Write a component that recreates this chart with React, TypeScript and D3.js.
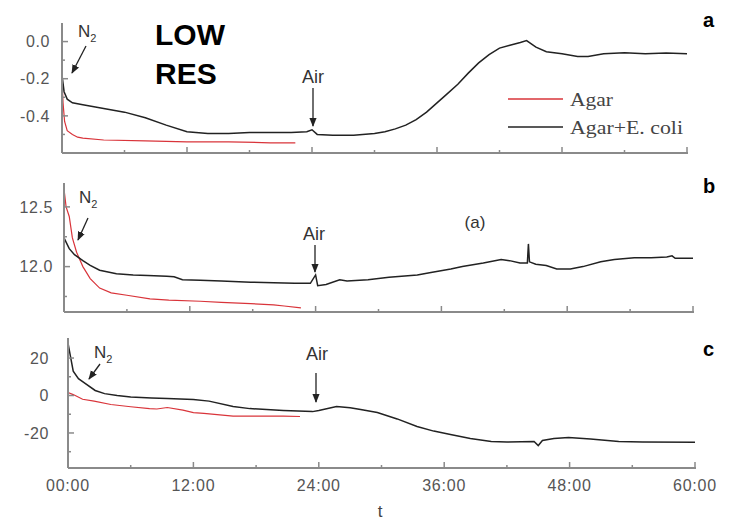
import React from "react";
import * as d3 from "d3";

// ---------- data ----------
const xTickHours = [0, 12, 24, 36, 48, 60];
const xTickLabels = ["00:00", "12:00", "24:00", "36:00", "48:00", "60:00"];
const xMinorHours = [6, 18, 30, 42, 54];

const aMajor = [0.0, -0.2, -0.4];
const aMajorLabels = ["0.0", "-0.2", "-0.4"];
const aMinor = [-0.1, -0.3, -0.5];
const bMajor = [12.5, 12.0];
const bMajorLabels = ["12.5", "12.0"];
const bMinor = [12.25, 11.75];
const cMajor = [20, 0, -20];
const cMajorLabels = ["20", "0", "-20"];
const cMinor = [10, -10, -30];

const aAgar: [number, number][] = [
  [0, -0.2], [0.1, -0.33], [0.25, -0.43], [0.5, -0.48], [1, -0.5], [1.5, -0.515], [2, -0.52],
  [4, -0.53], [8, -0.535], [12, -0.54], [16, -0.54], [20, -0.545], [22.4, -0.545],
];
const aEcoli: [number, number][] = [
  [0, -0.18], [0.2, -0.27], [0.5, -0.31], [1, -0.33], [2, -0.34], [4, -0.36], [6, -0.38],
  [8, -0.41], [10, -0.45], [12, -0.485], [14, -0.495], [16, -0.495], [18, -0.49], [20, -0.49],
  [22, -0.49], [23.5, -0.485], [24, -0.475], [24.5, -0.5], [26, -0.505], [28, -0.505],
  [30, -0.495], [31, -0.485], [32, -0.47], [33, -0.45], [34, -0.42], [35, -0.38], [36, -0.33],
  [37, -0.28], [38, -0.23], [39, -0.17], [40, -0.115], [41, -0.07], [42, -0.035], [43, -0.02],
  [44, -0.005], [44.6, 0.005], [45.5, -0.03], [46.5, -0.055], [48, -0.065], [49.5, -0.08],
  [50.5, -0.08], [52, -0.065], [54, -0.06], [56, -0.065], [58, -0.062], [60, -0.065],
];

const bAgar: [number, number][] = [
  [0, 12.65], [0.2, 12.5], [0.5, 12.42], [0.8, 12.24], [1.2, 12.12], [1.8, 12.0], [2.5, 11.9],
  [3.4, 11.82], [4.5, 11.78], [6, 11.76], [8.2, 11.73], [10, 11.72], [13, 11.71], [15, 11.7],
  [17.8, 11.69], [20, 11.68], [21, 11.67], [22.6, 11.655],
];
const bEcoli: [number, number][] = [
  [0, 12.24], [0.5, 12.15], [1, 12.1], [1.8, 12.05], [2.5, 12.01], [3.4, 11.97], [5, 11.94],
  [6.6, 11.93], [8, 11.925], [9.8, 11.92], [10.5, 11.915], [11.3, 11.89], [13, 11.885],
  [15, 11.88], [17.8, 11.87], [20, 11.865], [22, 11.86], [23.5, 11.86], [24, 11.93],
  [24.2, 11.84], [25, 11.85], [26.3, 11.89], [27, 11.88], [29, 11.89], [31, 11.91],
  [33.7, 11.93], [35, 11.95], [36.9, 11.98], [38, 12.0], [40, 12.03], [41.7, 12.06],
  [42.5, 12.05], [43.5, 12.03], [44.2, 12.03], [44.3, 12.19], [44.4, 12.04], [45, 12.02],
  [46, 12.01], [47, 11.98], [48.3, 11.98], [49.5, 12.0], [51.2, 12.04], [52.5, 12.06],
  [54.4, 12.075], [56, 12.075], [57.5, 12.08], [58, 12.09], [58.3, 12.07], [60, 12.07],
];

const cAgar: [number, number][] = [
  [0, 1.6], [0.5, 0.5], [1.4, -2], [2.5, -3], [4.1, -4.8], [6, -6], [7.8, -7], [8.5, -7.2],
  [9.5, -6.4], [11, -7.8], [12, -9.1], [13, -9.5], [15.8, -11], [17.4, -11], [19, -11],
  [20.6, -11], [22.2, -11.2],
];
const cEcoli: [number, number][] = [
  [0, 28], [0.2, 22], [0.5, 13], [1, 9], [1.5, 7], [2.6, 2.7], [3.5, 1], [4.7, 0], [6, -0.8],
  [8, -1.3], [9.5, -1.6], [12, -2.1], [13.5, -3], [15.8, -5.9], [17.4, -7], [20.6, -8],
  [23.4, -8.6], [24, -8], [25.7, -5.9], [27, -6.5], [28, -7.5], [29.6, -9.1], [31.5, -12.5],
  [33.4, -16.5], [35, -19], [36.6, -20.8], [38.5, -23], [40.5, -24.5], [42, -24.8],
  [44.6, -24.5], [45, -26.7], [45.4, -24], [46.5, -23], [47.9, -22.4], [50, -23.2],
  [52.7, -24.5], [55, -24.8], [60, -25],
];

const legendLabels = ["Agar", "Agar+E. coli"];

// ---------- styles ----------
const RED = "#d9343a";
const BLACK = "#222";
const AXIS = "#8a8a8a";
const LABEL = "#555";
const SANS = "Liberation Sans, Arial, sans-serif";
const SERIF = "Liberation Serif, Times New Roman, serif";

type PanelProps = {
  x0: number; x1: number; top: number; bottom: number; labelEnd: number;
  domain: [number, number];
  major: number[]; majorLabels: string[]; minor: number[];
  agar: [number, number][]; ecoli: [number, number][];
  showXLabels: boolean;
};

function Panel(p: PanelProps) {
  const x = d3.scaleLinear().domain([0, 60]).range([p.x0, p.x1]);
  const y = d3.scaleLinear().domain(p.domain).range([p.bottom, p.top]);
  const line = d3.line<[number, number]>().x((d) => x(d[0])).y((d) => y(d[1]));
  return (
    <g>
      <path d={line(p.agar) || ""} fill="none" stroke={RED} strokeWidth={1.2} />
      <path d={line(p.ecoli) || ""} fill="none" stroke={BLACK} strokeWidth={1.5} />
      <line x1={p.x0} x2={p.x0} y1={p.top} y2={p.bottom} stroke={AXIS} strokeWidth={2} />
      <line x1={p.x0} x2={p.x1 + 1} y1={p.bottom} y2={p.bottom} stroke={AXIS} strokeWidth={2} />
      {p.major.map((v, i) => (
        <g key={"ym" + i}>
          <line x1={p.x0} x2={p.x0 + 6} y1={y(v)} y2={y(v)} stroke={AXIS} strokeWidth={1.5} />
          <text x={p.labelEnd} y={y(v)} dy="0.36em" textAnchor="end" fontFamily={SANS} fontSize={16}
            letterSpacing={0.6} fill={LABEL}>
            {p.majorLabels[i]}
          </text>
        </g>
      ))}
      {p.minor.map((v, i) => (
        <line key={"yn" + i} x1={p.x0} x2={p.x0 + 3} y1={y(v)} y2={y(v)} stroke={AXIS} strokeWidth={1.5} />
      ))}
      {xTickHours.map((h, i) => (
        <g key={"xm" + i}>
          <line x1={x(h)} x2={x(h)} y1={p.bottom} y2={p.bottom - 6} stroke={AXIS} strokeWidth={1.5} />
          {p.showXLabels && (
            <text x={x(h)} y={p.bottom + 23} textAnchor="middle" fontFamily={SANS} fontSize={16}
              letterSpacing={0.8} fill={LABEL}>
              {xTickLabels[i]}
            </text>
          )}
        </g>
      ))}
      {xMinorHours.map((h, i) => (
        <line key={"xn" + i} x1={x(h)} x2={x(h)} y1={p.bottom} y2={p.bottom - 3} stroke={AXIS} strokeWidth={1.5} />
      ))}
    </g>
  );
}

function Arrow({ x1, y1, x2, y2 }: { x1: number; y1: number; x2: number; y2: number }) {
  return <line x1={x1} y1={y1} x2={x2} y2={y2} stroke="#222" strokeWidth={1.3} markerEnd="url(#ah)" />;
}

function N2({ x, y }: { x: number; y: number }) {
  return (
    <text x={x} y={y} fontFamily={SANS} fontSize={17} fill="#333">
      N<tspan fontSize={11} dy={5}>2</tspan>
    </text>
  );
}

export default function App() {
  return (
    <svg width={734} height={522} style={{ position: "absolute", left: 0, top: 0, background: "#fff" }}>
      <defs>
        <marker id="ah" viewBox="0 0 10 10" refX="9" refY="5" markerWidth="7" markerHeight="7" orient="auto-start-reverse">
          <path d="M0,1 L10,5 L0,9 z" fill="#222" />
        </marker>
      </defs>
      <rect width={734} height={522} fill="#fff" />
      <Panel x0={62} x1={687} top={23} bottom={153} labelEnd={50} domain={[-0.6, 0.1]} major={aMajor}
        majorLabels={aMajorLabels} minor={aMinor} agar={aAgar} ecoli={aEcoli} showXLabels={false} />
      <Panel x0={64} x1={693} top={183} bottom={312} labelEnd={53} domain={[11.62, 12.7]} major={bMajor}
        majorLabels={bMajorLabels} minor={bMinor} agar={bAgar} ecoli={bEcoli} showXLabels={false} />
      <Panel x0={68} x1={695} top={338} bottom={468} labelEnd={49} domain={[-38.7, 30.7]} major={cMajor}
        majorLabels={cMajorLabels} minor={cMinor} agar={cAgar} ecoli={cEcoli} showXLabels={true} />

      {/* annotations panel a */}
      <N2 x={78} y={37} />
      <Arrow x1={86} y1={46} x2={72} y2={73} />
      <text x={313} y={83} textAnchor="middle" fontFamily={SANS} fontSize={18} fill="#333">Air</text>
      <Arrow x1={313} y1={88} x2={313} y2={126} />
      <text x={155} y={45} fontFamily={SANS} fontSize={30} fontWeight="bold" fill="#000">LOW</text>
      <text x={155} y={84} fontFamily={SANS} fontSize={30} fontWeight="bold" fill="#000">RES</text>
      <text x={703} y={27} fontFamily={SANS} fontSize={20} fontWeight="bold" fill="#000">a</text>

      {/* legend */}
      <line x1={508} x2={563} y1={99} y2={99} stroke={RED} strokeWidth={1.3} />
      <text x={570} y={106} fontFamily={SERIF} fontSize={18} textLength={43} lengthAdjust="spacingAndGlyphs"
        fill="#444">{legendLabels[0]}</text>
      <line x1={508} x2={563} y1={127} y2={127} stroke={BLACK} strokeWidth={1.3} />
      <text x={570} y={134} fontFamily={SERIF} fontSize={18} textLength={113} lengthAdjust="spacingAndGlyphs"
        fill="#444">{legendLabels[1]}</text>

      {/* annotations panel b */}
      <N2 x={79} y={203} />
      <Arrow x1={88} y1={218} x2={78} y2={240} />
      <text x={314} y={240} textAnchor="middle" fontFamily={SANS} fontSize={18} fill="#333">Air</text>
      <Arrow x1={315} y1={245} x2={315} y2={272} />
      <text x={475} y={228} textAnchor="middle" fontFamily={SANS} fontSize={17} fill="#333">(a)</text>
      <text x={703} y={193} fontFamily={SANS} fontSize={20} fontWeight="bold" fill="#000">b</text>

      {/* annotations panel c */}
      <N2 x={94} y={358} />
      <Arrow x1={100} y1={364} x2={89} y2={379} />
      <text x={317} y={360} textAnchor="middle" fontFamily={SANS} fontSize={18} fill="#333">Air</text>
      <Arrow x1={316} y1={373} x2={316} y2={402} />
      <text x={703} y={356} fontFamily={SANS} fontSize={20} fontWeight="bold" fill="#000">c</text>

      <text x={380} y={517} textAnchor="middle" fontFamily={SANS} fontSize={17} fill="#444">t</text>
    </svg>
  );
}
